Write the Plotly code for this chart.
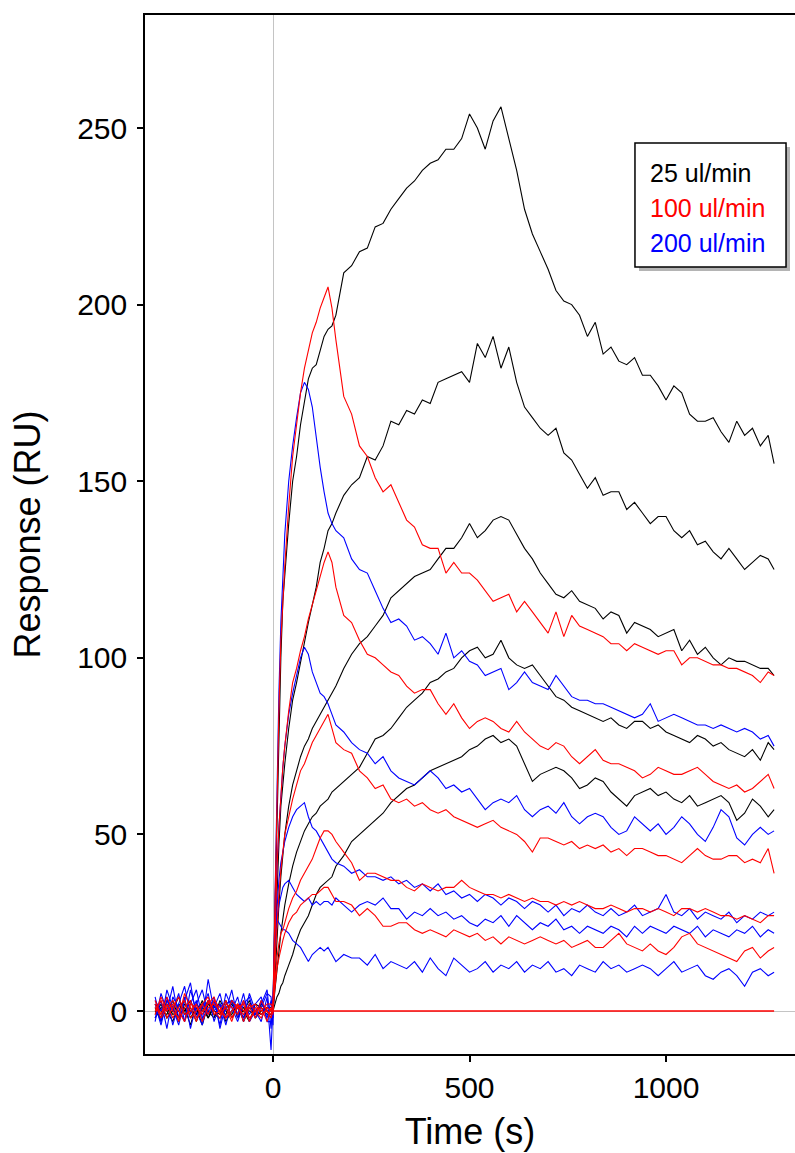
import plotly.graph_objects as go

# ---------------- data ----------------
TIME = [-300, -285, -270, -255, -240, -225, -210, -195, -180, -165,
        -150, -135, -120, -105, -90, -75, -60, -45, -30, -15,
        -5, 0, 5, 10, 15, 20, 25, 30,
        40, 50, 60, 70, 80, 90, 100, 110, 120, 130, 140, 150,
        160,
        180, 200, 220, 240, 260, 280, 300, 320, 340, 360,
        380, 400, 420, 440, 460, 480, 500, 520, 540, 560,
        580, 600, 620, 640, 660, 680, 700, 720, 740, 760,
        780, 800, 820, 840, 860, 880, 900, 920, 940, 960,
        980, 1000, 1020, 1040, 1060, 1080, 1100, 1120, 1140, 1160,
        1180, 1200, 1220, 1240, 1260,
        1275]

# 25 ul/min (black)
BLACK_1 = [0, -2, 3, 1, -3, 2, 0, -1, 3, -2, 1, 2, -3, 0, 1, -2, 2, 0, -1, 1,
           1, 2, 28, 55, 80, 100, 116, 124,
           138, 150, 157, 166, 172, 179, 182, 183, 187, 191, 193, 194,
           197,
           209, 211, 215, 216, 222, 223, 227, 230, 233, 235,
           238, 240, 241, 244, 244, 247, 254, 250, 244, 252,
           256, 247, 238, 227, 220, 215, 210, 204, 201, 200,
           197, 191, 195, 186, 188, 184, 183, 185, 180, 180,
           177, 173, 177, 175, 169, 167, 167, 168, 164, 161,
           167, 163, 165, 160, 163,
           155]
BLACK_2 = [1, -3, 2, -1, 0, 3, -2, 1, -4, 2, 0, -1, 3, -2, 1, 0, -3, 2, 1, -1,
           -1, 1, 18, 35, 47, 58, 65, 70,
           80, 88, 93, 99, 104, 110, 115, 120, 127, 131, 136, 138,
           141,
           146, 149, 151, 157, 156, 160, 167, 166, 170, 169,
           173, 172, 178, 179, 180, 181, 178, 189, 185, 191,
           182, 188, 178, 171, 168, 165, 163, 165, 158, 156,
           152, 148, 151, 146, 147, 147, 142, 144, 141, 138,
           140, 140, 136, 134, 136, 132, 133, 130, 128, 131,
           128, 125, 127, 129, 128,
           125]
BLACK_3 = [-1, 2, -2, 0, 4, -1, 1, -3, 2, 0, -2, 3, 0, -1, 2, -3, 1, 0, 2, 0,
           0, -1, 10, 20, 30, 38, 45, 50,
           58, 64, 68, 72, 75, 77, 80, 82, 84, 86, 88, 90,
           92,
           97, 101, 104, 106, 109, 112, 117, 119, 121, 123,
           124, 125, 128, 131, 131, 134, 138, 134, 136, 139,
           140, 139, 135, 131, 128, 124, 121, 118, 117, 119,
           116, 115, 114, 111, 113, 112, 107, 110, 109, 108,
           106, 107, 108, 102, 105, 101, 103, 100, 98, 100,
           99, 99, 98, 97, 97,
           95]
BLACK_4 = [2, 0, -1, 3, -2, 1, -4, 2, 0, 3, -1, -2, 1, 2, -1, 0, 3, -2, 0, 1,
           1, 0, 6, 12, 17, 22, 26, 30,
           36, 41, 45, 48, 51, 53, 55, 56, 58, 59, 60, 62,
           63,
           65, 67, 69, 73, 77, 78, 80, 83, 86, 88,
           90, 93, 94, 96, 97, 100, 102, 103, 100, 101,
           105, 100, 98, 97, 98, 95, 92, 89, 88, 86,
           85, 84, 83, 82, 83, 81, 80, 82, 82, 80,
           81, 79, 78, 77, 76, 78, 77, 75, 76, 74,
           73, 72, 74, 71, 76,
           74]
BLACK_5 = [-2, 1, 0, -3, 2, 0, 3, -1, 1, -2, 2, 0, -1, 3, -2, 1, 0, -1, 2, 0,
           -2, 0, 2, 4, 5, 7, 8, 10,
           13, 16, 20, 23, 25, 27, 30, 33, 35, 36, 37, 38,
           41,
           44, 48, 50, 52, 54, 56, 59, 61, 63, 64,
           66, 68, 69, 70, 71, 72, 74, 75, 77, 78,
           76, 77, 75, 70, 65, 67, 68, 69, 68, 66,
           63, 64, 66, 65, 62, 60, 58, 61, 62, 63,
           61, 62, 60, 59, 61, 58, 59, 60, 61, 59,
           54, 56, 60, 58, 55,
           57]

# 100 ul/min (red)
RED_1 = [3, -1, 4, 0, -2, 5, 1, -3, 2, 4, -1, 0, 3, -2, 1, 2, -3, 1, 0, 2,
         2, 1, 30, 60, 85, 105, 116, 126,
         143, 157, 166, 175, 182, 187, 192, 195, 199, 202, 205, 199,
         190,
         174, 169, 160, 157, 151, 147, 149, 144, 139, 137,
         132, 131, 131, 124, 127, 124, 124, 122, 119, 116,
         117, 118, 113, 116, 113, 110, 107, 113, 106, 112,
         109, 108, 107, 106, 104, 104, 102, 104, 103, 102,
         101, 102, 102, 98, 100, 100, 99, 98, 98, 97,
         97, 96, 95, 93, 96,
         95]
RED_2 = [-1, 4, 0, 2, -3, 1, 3, -2, 0, 2, 4, -1, 1, -3, 2, 0, 1, -2, 3, 0,
         -2, 0, 22, 40, 52, 62, 69, 75,
         85, 93, 97, 102, 106, 111, 115, 119, 123, 127, 130, 127,
         120,
         112, 110, 105, 101, 100, 98, 96, 95, 92, 90,
         91, 91, 87, 84, 87, 83, 80, 82, 83, 82,
         80, 79, 82, 79, 77, 75, 74, 76, 75, 72,
         70, 72, 74, 71, 70, 70, 69, 68, 66, 67,
         69, 68, 67, 67, 68, 69, 67, 65, 64, 63,
         64, 62, 63, 65, 67,
         63]
RED_3 = [2, -2, 1, 3, 0, -3, 2, 1, -1, 3, 0, -2, 2, 1, -1, 3, -2, 0, 1, -3,
         1, -1, 14, 25, 33, 40, 45, 50,
         55, 60, 64, 68, 70, 73, 76, 78, 80, 82, 84, 80,
         76,
         74, 73, 68, 66, 63, 64, 60, 59, 60, 58,
         59, 57, 56, 57, 55, 54, 53, 52, 53, 54,
         52, 51, 50, 48, 45, 49, 49, 48, 47, 48,
         46, 47, 46, 47, 45, 46, 44, 46, 46, 45,
         44, 44, 43, 42, 44, 46, 44, 43, 43, 44,
         44, 42, 43, 42, 46,
         39]
RED_4 = [0, 3, -2, 1, 4, -1, 0, 2, -3, 1, 2, 0, -2, 3, 1, -1, 2, 0, -2, 1,
         0, 2, 10, 15, 19, 22, 23, 25,
         29, 32, 34, 37, 39, 41, 43, 46, 49, 51, 51, 50,
         48,
         45, 42, 37, 39, 39, 38, 37, 37, 35, 34,
         36, 35, 34, 35, 35, 37, 35, 34, 33, 33,
         32, 33, 32, 31, 32, 31, 31, 30, 31, 30,
         31, 30, 29, 29, 30, 29, 28, 29, 29, 28,
         29, 28, 27, 29, 29, 28, 29, 28, 27, 27,
         26, 27, 26, 25, 27,
         27]
RED_5 = [1, -1, 2, -2, 1, 3, -2, 0, 2, -1, 3, 1, -2, 0, 2, -3, 1, 2, -1, 0,
         -1, 1, 7, 12, 15, 18, 20, 22,
         25, 27, 28, 30, 31, 32, 33, 33, 34, 35, 35, 33,
         31,
         31, 30, 27, 29, 27, 24, 24, 25, 25, 23,
         22, 23, 22, 21, 23, 22, 21, 22, 20, 21,
         19, 21, 20, 19, 20, 21, 20, 19, 20, 18,
         19, 20, 18, 18, 20, 22, 19, 18, 17, 19,
         17, 16, 18, 21, 22, 19, 18, 17, 16, 15,
         14, 17, 18, 15, 17,
         18]

# 200 ul/min (blue)
BLUE_1 = [4, -3, 6, 1, -4, 3, 8, -2, 1, 5, -3, 2, 0, 6, -2, 3, -1, 2, 4, -3,
          -3, 2, 35, 65, 90, 110, 124, 135,
          150, 160, 168, 175, 178, 176, 171, 162, 154, 147, 141, 138,
          136,
          134, 128, 125, 124, 119, 114, 110, 111, 109, 105,
          106, 104, 101, 107, 100, 102, 99, 98, 95, 96,
          97, 91, 93, 96, 93, 92, 91, 95, 92, 89,
          88, 88, 87, 87, 86, 85, 84, 83, 84, 87,
          82, 83, 84, 83, 82, 81, 81, 80, 81, 80,
          79, 80, 79, 77, 78,
          75]
BLUE_2 = [-3, 5, 0, 7, -2, 4, -5, 2, 6, -1, 3, -4, 5, 1, -3, 2, 4, -2, 1, 5,
          4, -2, 22, 40, 52, 62, 69, 75,
          84, 90, 95, 100, 103, 101, 96, 93, 90, 89, 87, 84,
          81,
          79, 76, 74, 73, 70, 72, 68, 66, 65, 64,
          66, 68, 66, 63, 64, 62, 63, 60, 57, 59,
          60, 59, 61, 57, 55, 57, 58, 56, 59, 55,
          53, 55, 56, 55, 52, 50, 51, 55, 53, 51,
          53, 50, 52, 55, 53, 50, 48, 52, 57, 55,
          49, 47, 50, 52, 50,
          51]
BLUE_3 = [2, -4, 3, 0, 5, -3, 2, 6, -2, 0, 4, -5, 2, 3, -1, 5, -3, 0, 2, 6,
          -5, 3, 20, 30, 37, 42, 45, 48,
          52, 55, 57, 58, 59, 55, 52, 51, 49, 47, 45, 43,
          42,
          41, 39, 40, 38, 38, 37, 38, 36, 37, 35,
          36, 34, 36, 33, 34, 32, 33, 31, 33, 32,
          30, 32, 31, 29, 31, 30, 28, 30, 27, 29,
          28, 30, 28, 27, 29, 27, 28, 30, 27, 28,
          29, 33, 28, 27, 29, 26, 28, 27, 26, 28,
          25, 27, 26, 28, 27,
          28]
BLUE_4 = [-2, 3, -5, 4, 1, -3, 6, 0, -4, 3, 1, 5, -2, 0, 4, -3, 2, -1, 3, -2,
          3, -4, 18, 26, 30, 33, 35, 36,
          37, 35, 33, 32, 31, 32, 30, 31, 30, 31, 31, 30,
          32,
          30, 28, 30, 31, 30, 32, 29, 29, 26, 28,
          27, 29, 27, 28, 26, 27, 25, 24, 26, 25,
          27, 24, 27, 25, 23, 25, 24, 26, 23, 24,
          22, 24, 23, 22, 24, 23, 21, 24, 22, 24,
          23, 22, 24, 23, 22, 24, 21, 23, 22, 21,
          23, 22, 24, 21, 23,
          22]
BLUE_5 = [3, 0, 4, -4, 2, 7, -1, 3, -3, 9, 0, 2, -4, 3, 1, -2, 5, 0, -3, 4,
          -11, 1, 22, 26, 25, 24, 23, 23,
          22, 20, 19, 18, 16, 14, 16, 17, 18, 17, 18, 16,
          14,
          16, 15, 15, 13, 16, 12, 14, 13, 12, 14,
          11, 15, 12, 10, 15, 13, 11, 12, 14, 11,
          13, 12, 14, 11, 13, 12, 14, 11, 12, 10,
          13, 12, 11, 14, 12, 13, 11, 12, 13, 12,
          10, 12, 14, 11, 12, 13, 10, 9, 11, 12,
          10, 7, 11, 12, 10,
          11]

# zero reference line (red)
ZERO_T = [0, 1275]
ZERO_V = [0, 0]

X_TICKS = [0, 500, 1000]
Y_TICKS = [0, 50, 100, 150, 200, 250]
LEGEND_LABELS = ["25 ul/min", "100 ul/min", "200 ul/min"]

# ---------------- figure ----------------
FONT = "Liberation Sans, Arial, sans-serif"
C_BLACK, C_RED, C_BLUE = "#000000", "#ff0000", "#0000ff"

fig = go.Figure()
groups = [
    (C_BLACK, [BLACK_1, BLACK_2, BLACK_3, BLACK_4, BLACK_5]),
    (C_BLUE, [BLUE_1, BLUE_2, BLUE_3, BLUE_4, BLUE_5]),
    (C_RED, [RED_1, RED_2, RED_3, RED_4, RED_5]),
]
for color, curves in groups:
    for vals in curves:
        fig.add_trace(go.Scatter(x=TIME, y=vals, mode="lines",
                                 line=dict(color=color, width=1.1),
                                 showlegend=False, hoverinfo="skip"))
fig.add_trace(go.Scatter(x=ZERO_T, y=ZERO_V, mode="lines",
                         line=dict(color=C_RED, width=1.5),
                         showlegend=False, hoverinfo="skip"))

axis_common = dict(
    showgrid=False, showline=True, linecolor="#000000", linewidth=1.5,
    ticks="outside", ticklen=6, tickwidth=1.5, tickcolor="#000000",
    tickfont=dict(family=FONT, size=30, color="#000000"),
    zeroline=True, zerolinecolor="#c4c4c4", zerolinewidth=1,
)

fig.update_layout(
    width=795, height=1153,
    margin=dict(l=145, r=0, t=15, b=99),
    paper_bgcolor="white", plot_bgcolor="white",
    showlegend=False,
    xaxis=dict(range=[-325.7, 1328.2], tickvals=X_TICKS, mirror=True,
               title=dict(text="Time (s)", font=dict(family=FONT, size=36, color="#000000"),
                          standoff=16),
               **axis_common),
    yaxis=dict(range=[-12.17, 282.0], tickvals=Y_TICKS, mirror=False,
               ticklabelstandoff=4,
               title=dict(text="Response (RU)", font=dict(family=FONT, size=36, color="#000000"),
                          standoff=26),
               **axis_common),
)

# legend box (with drop shadow) and coloured labels
fig.add_shape(type="rect", xref="paper", yref="paper",
              x0=0.760, x1=0.9923, y0=0.7536, y1=0.873,
              fillcolor="#b4b4b4", line=dict(width=0), layer="above")
fig.add_shape(type="rect", xref="paper", yref="paper",
              x0=0.7538, x1=0.9862, y0=0.7575, y1=0.8768,
              fillcolor="white", line=dict(color="#000000", width=1.5), layer="above")
for label, color, ypos in zip(LEGEND_LABELS, [C_BLACK, C_RED, C_BLUE], [0.848, 0.8142, 0.7806]):
    fig.add_annotation(xref="paper", yref="paper", x=0.7738, y=ypos,
                       xanchor="left", yanchor="middle", showarrow=False,
                       text=label, font=dict(family=FONT, size=25, color=color))

fig.write_html("out.html")
